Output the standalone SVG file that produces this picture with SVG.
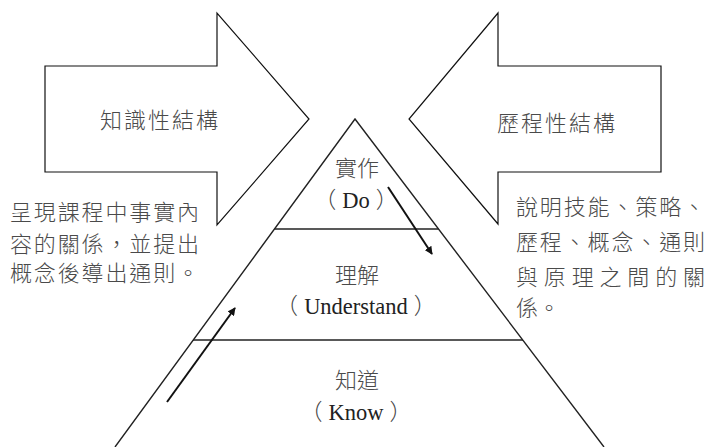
<svg xmlns="http://www.w3.org/2000/svg" width="707" height="447" viewBox="0 0 707 447">
<defs>
<marker id="ah" viewBox="0 0 10 10" refX="9" refY="5" markerWidth="4" markerHeight="4" orient="auto" markerUnits="strokeWidth">
<path d="M0,0 L10,5 L0,10 z" fill="#111"/>
</marker>
</defs>
<style>
.shape{fill:#fff;stroke:#111;stroke-width:1.2}
.line{fill:none;stroke:#222;stroke-width:1.4}
.cjk{font-family:"Noto Sans CJK TC","Noto Sans CJK SC",sans-serif;font-weight:300;fill:#4a4a4a;font-size:22px}
.lab{font-family:"Liberation Serif","Noto Sans CJK TC",serif;fill:#222;font-size:22.5px;text-anchor:middle}
.par{font-family:"Noto Sans CJK TC","Noto Sans CJK SC",sans-serif;font-weight:300;fill:#444}
.labc{font-family:"Noto Sans CJK TC","Noto Sans CJK SC",sans-serif;font-weight:300;fill:#4a4a4a;font-size:22px;text-anchor:middle}
.conn{stroke:#111;stroke-width:2;fill:none;marker-end:url(#ah)}
</style>
<rect width="707" height="447" fill="#fff"/>
<g id="left-arrow">
<polygon class="shape" points="45,66 217,66 217,13 309,119 217,225 217,172 45,172"/>
<text class="cjk" x="100" y="128" textLength="118" lengthAdjust="spacing">知識性結構</text>
</g>
<g id="right-arrow">
<polygon class="shape" points="661,66 498,66 498,13 409,119 498,224 498,172 661,172"/>
<text class="cjk" x="497" y="131" textLength="118" lengthAdjust="spacing">歷程性結構</text>
</g>
<g id="pyramid">
<polyline class="line" points="115,447 355,119 604,447"/>
<line class="line" x1="274.5" y1="229" x2="438.5" y2="229"/>
<line class="line" x1="193" y1="340" x2="523" y2="340"/>
</g>
<g id="do">
<text class="labc" x="357" y="176">實作</text>
<text class="lab" x="356" y="208"><tspan class="par">（</tspan><tspan dx="6">Do</tspan><tspan class="par" dx="6">）</tspan></text>
</g>
<g id="understand">
<text class="labc" x="357" y="283">理解</text>
<text class="lab" x="356" y="314"><tspan class="par">（</tspan><tspan dx="6">Understand</tspan><tspan class="par" dx="6">）</tspan></text>
</g>
<g id="know">
<text class="labc" x="357" y="388">知道</text>
<text class="lab" x="356" y="420"><tspan class="par">（</tspan><tspan dx="6">Know</tspan><tspan class="par" dx="6">）</tspan></text>
</g>
<g id="left-desc">
<text class="cjk" x="10" y="220" textLength="189" lengthAdjust="spacing">呈現課程中事實內</text>
<text class="cjk" x="10" y="252" textLength="189" lengthAdjust="spacing">容的關係，並提出</text>
<text class="cjk" x="10" y="281" textLength="189" lengthAdjust="spacing">概念後導出通則。</text>
</g>
<g id="right-desc">
<text class="cjk" x="516" y="215" textLength="189" lengthAdjust="spacing">說明技能、策略、</text>
<text class="cjk" x="516" y="250" textLength="189" lengthAdjust="spacing">歷程、概念、通則</text>
<text class="cjk" x="516" y="285" textLength="189" lengthAdjust="spacing">與原理之間的關</text>
<text class="cjk" x="516" y="316">係。</text>
</g>
<g id="connectors">
<line class="conn" x1="388" y1="187" x2="432" y2="254"/>
<line class="conn" x1="167" y1="402" x2="235" y2="308"/>
</g>
</svg>
